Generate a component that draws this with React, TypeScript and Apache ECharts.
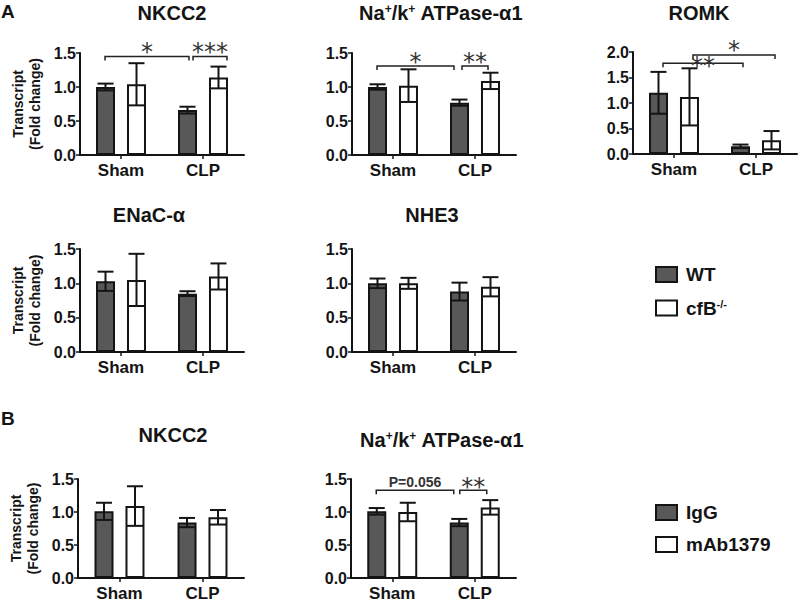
import React, { useEffect, useRef } from "react";
import * as echarts from "echarts";

// ---------- data ----------
const CATS = ["Sham", "CLP"];

// Panel A1 NKCC2
const A1_WT = [1.0, 0.66];
const A1_WT_ERR = [0.05, 0.05];
const A1_KO = [1.04, 1.14];
const A1_KO_ERR = [0.31, 0.16];
// Panel A2 Na+/K+ ATPase-a1
const A2_WT = [1.0, 0.77];
const A2_WT_ERR = [0.04, 0.045];
const A2_KO = [1.02, 1.09];
const A2_KO_ERR = [0.24, 0.12];
// Panel A3 ROMK
const A3_WT = [1.2, 0.15];
const A3_WT_ERR = [0.41, 0.035];
const A3_KO = [1.12, 0.27];
const A3_KO_ERR = [0.56, 0.18];
// Panel A4 ENaC-a
const A4_WT = [1.03, 0.85];
const A4_WT_ERR = [0.14, 0.035];
const A4_KO = [1.05, 1.1];
const A4_KO_ERR = [0.38, 0.19];
// Panel A5 NHE3
const A5_WT = [1.0, 0.88];
const A5_WT_ERR = [0.07, 0.13];
const A5_KO = [1.0, 0.95];
const A5_KO_ERR = [0.08, 0.14];
// Panel B1 NKCC2
const B1_IGG = [1.01, 0.84];
const B1_IGG_ERR = [0.13, 0.07];
const B1_MAB = [1.09, 0.92];
const B1_MAB_ERR = [0.3, 0.11];
// Panel B2 Na+/K+ ATPase-a1
const B2_IGG = [1.01, 0.84];
const B2_IGG_ERR = [0.05, 0.055];
const B2_MAB = [1.0, 1.07];
const B2_MAB_ERR = [0.14, 0.11];

const TICKS_15 = [0, 0.5, 1.0, 1.5];
const TICKS_20 = [0, 0.5, 1.0, 1.5, 2.0];

// significance brackets: [fromCat, fromOffsetPx, toCat, toOffsetPx, yValue]
const A1_NOTES = [
  { b: [0, -16, 1, -14, 1.45], text: "*" },
  { b: [1, -10, 1, 24, 1.45], text: "***" },
];
const A2_NOTES = [
  { b: [0, -16, 1, -21, 1.31], text: "*" },
  { b: [1, -13, 1, 13, 1.31], text: "**" },
];
const A3_NOTES = [
  { b: [0, -11, 1, -13, 1.78], text: "**", gap: 2 },
  { b: [0, 19, 1, 19, 1.94], text: "*", gap: 10 },
];
const B2_NOTES = [
  { b: [0, -16, 1, -21, 1.33], text: "P=0.056", gap: 8 },
  { b: [1, -15, 1, 12, 1.33], text: "**", gap: 8 },
];

// ---------- style ----------
const FONT = "'Liberation Sans', Arial, sans-serif";
const DARK = "#585858";
const INK = "#141414";
const BAR_W = 19;
const GAP = 12;
const OFF = (BAR_W + GAP) / 2;

type Panel = {
  title: string;
  tx: number;
  ty: number;
  grid: { left: number; top: number; width: number; height: number };
  max: number;
  ticks: number[];
  a: number[];
  aErr: number[];
  b: number[];
  bErr: number[];
  names: [string, string];
  ylabel: boolean;
  notes: { b: number[]; text: string; gap?: number }[];
};

const GA: [string, string] = ["WT", "cfB-/-"];
const GB: [string, string] = ["IgG", "mAb1379"];
const NAK = "Na{sup|+}/k{sup|+} ATPase-α1";

const PANELS: Panel[] = [
  { title: "NKCC2", tx: 172, ty: 13, grid: { left: 80, top: 53, width: 164, height: 102 }, max: 1.5, ticks: TICKS_15, a: A1_WT, aErr: A1_WT_ERR, b: A1_KO, bErr: A1_KO_ERR, names: GA, ylabel: true, notes: A1_NOTES },
  { title: NAK, tx: 441, ty: 13, grid: { left: 352, top: 53, width: 164, height: 102 }, max: 1.5, ticks: TICKS_15, a: A2_WT, aErr: A2_WT_ERR, b: A2_KO, bErr: A2_KO_ERR, names: GA, ylabel: false, notes: A2_NOTES },
  { title: "ROMK", tx: 699, ty: 13, grid: { left: 633, top: 52, width: 164, height: 102 }, max: 2.0, ticks: TICKS_20, a: A3_WT, aErr: A3_WT_ERR, b: A3_KO, bErr: A3_KO_ERR, names: GA, ylabel: false, notes: A3_NOTES },
  { title: "ENaC-α", tx: 149, ty: 215, grid: { left: 80, top: 249, width: 164, height: 103 }, max: 1.5, ticks: TICKS_15, a: A4_WT, aErr: A4_WT_ERR, b: A4_KO, bErr: A4_KO_ERR, names: GA, ylabel: true, notes: [] },
  { title: "NHE3", tx: 432, ty: 215, grid: { left: 352, top: 249, width: 164, height: 103 }, max: 1.5, ticks: TICKS_15, a: A5_WT, aErr: A5_WT_ERR, b: A5_KO, bErr: A5_KO_ERR, names: GA, ylabel: false, notes: [] },
  { title: "NKCC2", tx: 173, ty: 435, grid: { left: 78, top: 479, width: 166, height: 104 }, max: 1.5, ticks: TICKS_15, a: B1_IGG, aErr: B1_IGG_ERR, b: B1_MAB, bErr: B1_MAB_ERR, names: GB, ylabel: true, notes: [] },
  { title: NAK, tx: 442, ty: 440, grid: { left: 351, top: 479, width: 165, height: 104 }, max: 1.5, ticks: TICKS_15, a: B2_IGG, aErr: B2_IGG_ERR, b: B2_MAB, bErr: B2_MAB_ERR, names: GB, ylabel: false, notes: B2_NOTES },
];

function buildOption() {
  const grid: any[] = [];
  const xAxis: any[] = [];
  const yAxis: any[] = [];
  const series: any[] = [];
  const graphic: any[] = [];

  PANELS.forEach((p, i) => {
    grid.push({ ...p.grid, containLabel: false });
    xAxis.push({
      type: "category",
      gridIndex: i,
      data: CATS,
      axisLine: { show: true, lineStyle: { color: INK, width: 2 } },
      axisTick: { show: true, alignWithLabel: true, length: 4, lineStyle: { color: INK, width: 1.5 } },
      axisLabel: { color: INK, fontFamily: FONT, fontWeight: "bold", fontSize: 17, margin: 7 },
      splitLine: { show: false },
    });
    yAxis.push({
      type: "value",
      gridIndex: i,
      min: 0,
      max: p.max,
      interval: 0.5,
      name: p.ylabel ? "Transcript\n(Fold change)" : "",
      nameLocation: "middle",
      nameGap: 37,
      nameTextStyle: { color: INK, fontFamily: FONT, fontWeight: "bold", fontSize: 14, lineHeight: 17 },
      axisLine: { show: true, lineStyle: { color: INK, width: 2 } },
      axisTick: { show: true, length: 4, lineStyle: { color: INK, width: 1.5 } },
      axisLabel: {
        color: INK,
        fontFamily: FONT,
        fontWeight: "bold",
        fontSize: 16,
        margin: 4,
        formatter: (v: number) => v.toFixed(1),
      },
      splitLine: { show: false },
    });

    const barBase = {
      type: "bar",
      xAxisIndex: i,
      yAxisIndex: i,
      barWidth: BAR_W,
      barGap: `${Math.round((GAP / BAR_W) * 100)}%`,
      z: 2,
    };
    series.push({
      ...barBase,
      name: p.names[0],
      data: p.a,
      itemStyle: { color: DARK, borderColor: INK, borderWidth: 2 },
    });
    series.push({
      ...barBase,
      name: p.names[1],
      data: p.b,
      itemStyle: { color: "#ffffff", borderColor: INK, borderWidth: 2 },
    });

    const errData: number[][] = [];
    p.a.forEach((v, k) => errData.push([k, v, p.aErr[k], 0]));
    p.b.forEach((v, k) => errData.push([k, v, p.bErr[k], 1]));
    series.push({
      type: "custom",
      xAxisIndex: i,
      yAxisIndex: i,
      z: 5,
      silent: true,
      clip: false,
      encode: { x: 0, y: 1 },
      data: errData,
      renderItem: (params: any, api: any) => {
        const cat = api.value(0);
        const v = api.value(1);
        const e = api.value(2);
        const g = api.value(3);
        const hi = api.coord([cat, v + e]);
        const lo = api.coord([cat, v - e]);
        const x = hi[0] + (g === 0 ? -OFF : OFF);
        const st = { stroke: INK, lineWidth: 2 };
        return {
          type: "group",
          children: [
            { type: "line", shape: { x1: x, y1: hi[1], x2: x, y2: lo[1] }, style: st },
            { type: "line", shape: { x1: x - 8, y1: hi[1], x2: x + 8, y2: hi[1] }, style: st },
            { type: "line", shape: { x1: x - 8, y1: lo[1], x2: x + 8, y2: lo[1] }, style: st },
          ],
        };
      },
    });

    if (p.notes.length) {
      const notes = p.notes;
      series.push({
        type: "custom",
        xAxisIndex: i,
        yAxisIndex: i,
        z: 6,
        silent: true,
        clip: false,
        encode: { x: 0, y: 4 },
        data: notes.map((n) => n.b),
        renderItem: (params: any, api: any) => {
          const n = notes[params.dataIndex];
          const y = api.value(4);
          const c1 = api.coord([api.value(0), y]);
          const c2 = api.coord([api.value(2), y]);
          const x1 = c1[0] + api.value(1);
          const x2 = c2[0] + api.value(3);
          const yp = c1[1];
          const isStar = n.text.indexOf("*") === 0;
          const gap = n.gap != null ? n.gap : 9;
          const ty = isStar ? yp - gap + 5 : yp - gap;
          return {
            type: "group",
            children: [
              {
                type: "polyline",
                shape: { points: [[x1, yp + 4], [x1, yp], [x2, yp], [x2, yp + 4]] },
                style: { stroke: "#222", lineWidth: 1.5, fill: "none" },
              },
              {
                type: "text",
                x: (x1 + x2) / 2,
                y: ty,
                style: {
                  text: n.text,
                  fill: "#333",
                  font: isStar ? "normal 24px 'DejaVu Sans'" : `bold 14px ${FONT}`,
                  textAlign: "center",
                  textVerticalAlign: "middle",
                  align: "center",
                  verticalAlign: "middle",
                },
              },
            ],
          };
        },
      });
    }

    graphic.push({
      type: "text",
      x: p.tx,
      y: p.ty,
      style: {
        text: p.title,
        fill: INK,
        font: `bold 20px ${FONT}`,
        textAlign: "center",
        textVerticalAlign: "middle",
        rich: {
          sup: { fontSize: 12, fontWeight: "bold", fontFamily: FONT, fill: INK, padding: [0, 0, 9, 0] },
        },
      },
    });
  });

  graphic.push({ type: "text", x: 1, y: 11, style: { text: "A", fill: INK, font: `bold 19px ${FONT}`, textVerticalAlign: "middle" } });
  graphic.push({ type: "text", x: 1, y: 418, style: { text: "B", fill: INK, font: `bold 19px ${FONT}`, textVerticalAlign: "middle" } });

  const legendText = {
    color: INK,
    fontFamily: FONT,
    fontWeight: "bold",
    fontSize: 19,
    lineHeight: 19,
    padding: [0, 0, 0, 4],
    rich: {
      sup: { fontSize: 11, fontWeight: "bold", fontFamily: FONT, color: INK, padding: [0, 0, 9, 0] },
    },
  };
  const legend = [
    {
      orient: "vertical",
      left: 655,
      top: 265,
      padding: 0,
      itemWidth: 21,
      itemHeight: 15,
      itemGap: 14,
      icon: "rect",
      data: GA,
      selectedMode: false,
      textStyle: legendText,
      formatter: (name: string) => (name === "cfB-/-" ? "cfB{sup|-/-}" : name),
    },
    {
      orient: "vertical",
      left: 655,
      top: 503,
      padding: 0,
      itemWidth: 21,
      itemHeight: 15,
      itemGap: 13,
      icon: "rect",
      data: GB,
      selectedMode: false,
      textStyle: legendText,
    },
  ];

  return {
    animation: false,
    backgroundColor: "#ffffff",
    grid,
    xAxis,
    yAxis,
    series,
    graphic,
    legend,
  };
}

export default function App() {
  const ref = useRef<HTMLDivElement>(null);
  useEffect(() => {
    if (!ref.current) return;
    const chart = echarts.init(ref.current, null, { renderer: "svg" });
    chart.setOption(buildOption() as any);
    return () => chart.dispose();
  }, []);
  return (
    <div
      ref={ref}
      style={{ position: "fixed", left: 0, top: 0, width: 800, height: 602, background: "#fff" }}
    />
  );
}
